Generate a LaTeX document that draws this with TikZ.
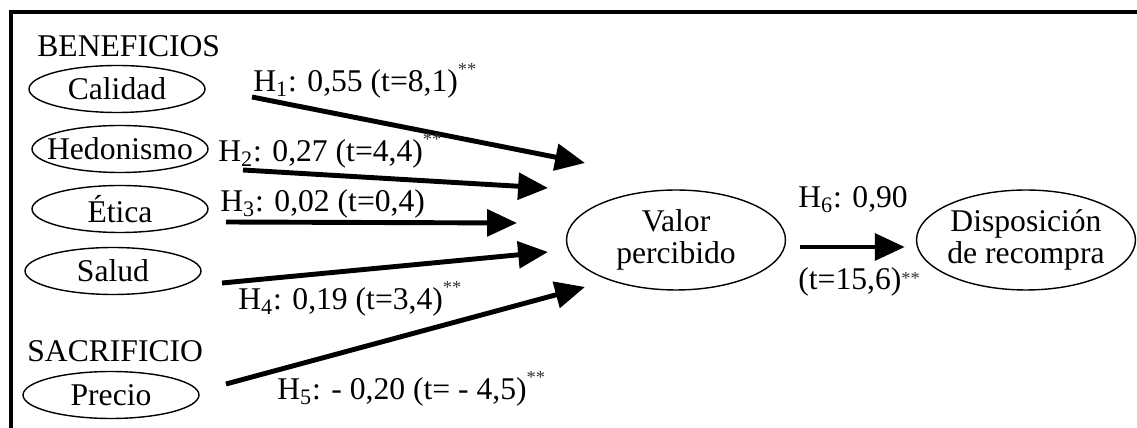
\documentclass[tikz,border=0pt]{standalone}
\usepackage{fontspec}
\setmainfont{Liberation Serif}
\usetikzlibrary{arrows.meta, positioning, shapes.geometric}
\newcommand{\signif}[1][9.5pt]{\raisebox{#1}{\fontsize{10.5}{10.5}\selectfont\color{black!80}**}}

\begin{document}
\begin{tikzpicture}[x=0.02cm, y=-0.02cm,
    font=\fontsize{18}{18}\selectfont,
    factor/.style={draw, ellipse, line width=0.8pt, inner xsep=-1cm, inner ysep=0pt,
        minimum width=3.52cm, minimum height=0.94cm},
    outcome/.style={draw, ellipse, line width=0.8pt, inner xsep=-1.2cm, inner ysep=-0.2cm,
        align=center, minimum width=4.38cm, minimum height=2.0cm},
    group/.style={anchor=base west, inner sep=0pt},
    coef/.style={anchor=base west, inner sep=0pt},
    rel/.style={-{Triangle[length=17pt, width=15pt]}, line width=2.8pt},
]
\useasboundingbox (0,0) rectangle (1137,428);

% marco
\draw[line width=2.3pt] (11,428) -- (11,12) -- (1137,12);

% constructos
\node[group] (ben) at (37,57) {BENEFICIOS};
\node[factor] (cal) at (117,89) {Calidad};
\node[factor] (hed) at (120,149) {Hedonismo};
\node[factor] (eti) at (120,209) {Ética};
\node[factor] (sal) at (113,271) {Salud};
\node[group] (sac) at (27,362) {SACRIFICIO};
\node[factor] (pre) at (111,395) {Precio};

\node[outcome] (val) at (676,240) {Valor\\percibido};
\node[outcome] (dis) at (1026,240) {Disposición\\de recompra};

% relaciones
\coordinate (s1) at (252,97);  \coordinate (e1) at (585,163);
\coordinate (s2) at (243,170); \coordinate (e2) at (548,188);
\coordinate (s3) at (226,222); \coordinate (e3) at (517,223);
\coordinate (s4) at (222,283); \coordinate (e4) at (548,252);
\coordinate (s5) at (226,384); \coordinate (e5) at (585,287);
\foreach \i in {1,...,5} \draw[rel] (s\i) -- (e\i);
\draw[rel] ([xshift=0.28cm, yshift=-0.14cm]val.east) -- ([xshift=-0.22cm, yshift=-0.14cm]dis.west);

% coeficientes
\node[coef] (c1) at (253,92) {H\textsubscript{1}: 0,55 (t=8,1)\signif};
\node[coef] (c2) at (218,162) {H\textsubscript{2}: 0,27 (t=4,4)\signif};
\node[coef] (c3) at (220,212) {H\textsubscript{3}: 0,02 (t=0,4)};
\node[coef] (c4) at (238,310) {H\textsubscript{4}: 0,19 (t=3,4)\signif};
\node[coef] (c5) at (277,400) {H\textsubscript{5}: - 0,20 (t= - 4,5)\signif};
\node[coef] (c6) at (798,208) {H\textsubscript{6}: 0,90};
\node[coef] (t6) at (798,290) {(t=15,6)\signif[3pt]};

\end{tikzpicture}
\end{document}
